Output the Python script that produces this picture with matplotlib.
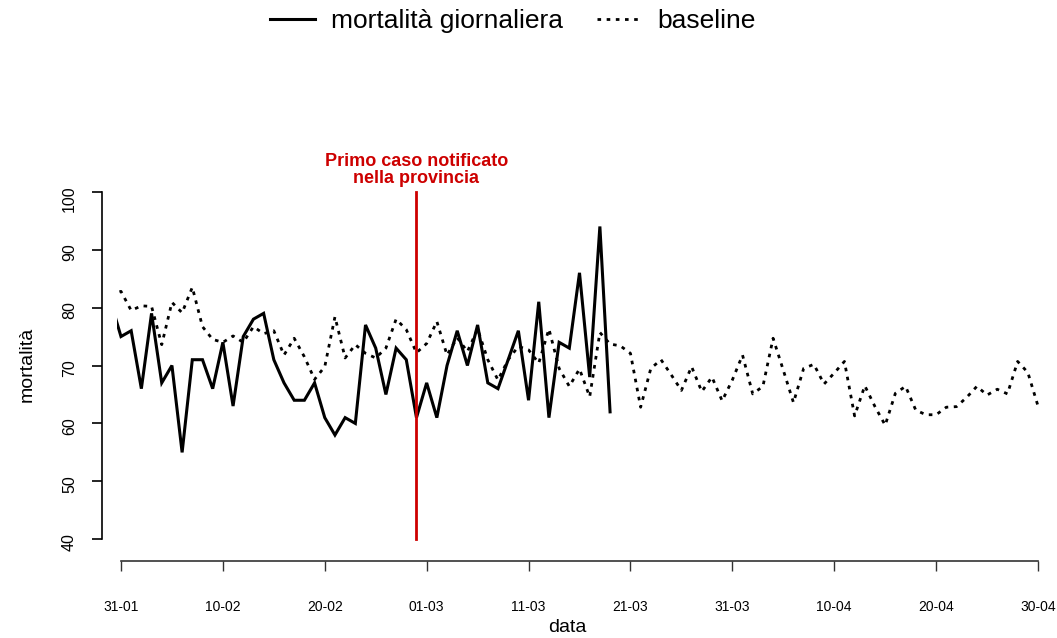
import numpy as np
import matplotlib
matplotlib.use("Agg")
import matplotlib.pyplot as plt
import matplotlib.dates as mdates
from matplotlib.lines import Line2D

plt.rcParams['font.family'] = ['Liberation Sans', 'DejaVu Sans']

# ---- data -------------------------------------------------------------
start_date = np.datetime64('2020-01-30')
mortalita = [81, 75, 76, 66, 79, 67, 70, 55, 71, 71, 66, 74, 63, 75, 78, 79,
             71, 67, 64, 64, 67, 61, 58, 61, 60, 77, 73, 65, 73, 71, 61, 67,
             61, 70, 76, 70, 77, 67, 66, 71, 76, 64, 81, 61, 74, 73, 86, 68,
             94, 62]
baseline = [82.2, 82.8, 79.5, 80.3, 80.2, 73.6, 80.9, 79.1, 83.5, 76.7, 74.5,
            74.0, 75.1, 74.0, 76.7, 75.5, 76.0, 71.8, 74.7, 71.5, 67.6, 69.8,
            78.4, 71.3, 73.6, 72.1, 71.3, 73.0, 78.0, 76.2, 72.2, 73.8, 77.6,
            71.8, 74.8, 72.4, 76.3, 71.0, 67.5, 71.0, 73.3, 72.7, 70.4, 76.3,
            69.5, 66.4, 69.4, 64.6, 75.7, 73.7, 73.4, 72.1, 62.8, 69.5, 71.0,
            68.4, 65.7, 69.8, 65.5, 68.0, 63.9, 67.5, 71.8, 65.1, 66.4, 74.7,
            69.2, 63.6, 69.5, 70.2, 66.8, 68.7, 70.7, 61.3, 66.5, 62.9, 59.7,
            65.2, 66.4, 62.3, 61.5, 61.5, 62.8, 62.9, 64.5, 66.4, 64.9, 65.9,
            65.1, 70.7, 68.8, 63.0]
tick_dates = ['2020-01-31', '2020-02-10', '2020-02-20', '2020-03-01',
              '2020-03-11', '2020-03-21', '2020-03-31', '2020-04-10',
              '2020-04-20', '2020-04-30']
tick_labels = ['31-01', '10-02', '20-02', '01-03', '11-03', '21-03',
               '31-03', '10-04', '20-04', '30-04']
y_ticks = [40, 50, 60, 70, 80, 90, 100]
first_case = '2020-02-29'
annotation = "Primo caso notificato\nnella provincia"
legend_labels = ['mortalità giornaliera', 'baseline']

# ---- figure -----------------------------------------------------------
W, H = 1057, 638
fig = plt.figure(figsize=(W / 100, H / 100), dpi=100)
ax = fig.add_axes([116.7 / W, 1 - 553.2 / H, 925.6 / W, 375.4 / H])

d_m = mdates.date2num(start_date + np.arange(len(mortalita)))
d_b = mdates.date2num(start_date + np.arange(len(baseline)))
t_num = mdates.date2num(np.array(tick_dates, dtype='datetime64[D]'))
red = '#CD0000'

ax.plot(d_b, baseline, color='black', lw=2.0, linestyle=(0, (1.3, 2.0)),
        dash_capstyle='butt')
ax.plot(d_m, mortalita, color='black', lw=2.2, solid_joinstyle='miter')
fc = mdates.date2num(np.datetime64(first_case))
ax.plot([fc, fc], [y_ticks[0], y_ticks[-1]], color=red, lw=2.0)
ax.text(fc, 103.8, annotation, color=red, fontsize=13, fontweight='bold',
        ha='center', va='center', multialignment='center', clip_on=False,
        linespacing=0.98)

ax.set_xlim(t_num[0] - 0.42, t_num[-1] + 0.42)
ax.set_ylim(37.6, 102.4)
ax.set_xticks(t_num)
ax.set_xticklabels(tick_labels)
ax.set_yticks(y_ticks)
ax.set_yticklabels([str(v) for v in y_ticks], va='center')

for s in ['top', 'right']:
    ax.spines[s].set_visible(False)
ax.spines['left'].set_position(('outward', 10.6))
ax.spines['left'].set_bounds(y_ticks[0], y_ticks[-1])
ax.spines['bottom'].set_position(('outward', 5.4))
ax.spines['bottom'].set_bounds(t_num[0], t_num[-1])
for s in ['left', 'bottom']:
    ax.spines[s].set_linewidth(1.2)
ax.tick_params(axis='y', length=7, width=1.2, pad=11, labelrotation=90,
               labelsize=11.5)
ax.tick_params(axis='x', length=7, width=1.0, pad=21, color='#333333',
               labelsize=10)
ax.spines['bottom'].set_color('#333333')

fig.text(567 / W, 1 - 628 / H, 'data', fontsize=14, ha='center', va='center')
fig.text(27 / W, 1 - 364 / H, 'mortalità', fontsize=14, ha='center',
         va='center', rotation=90)

handles = [Line2D([], [], color='black', lw=2.2),
           Line2D([], [], color='black', lw=2.0, linestyle=(0, (1.3, 2.0)))]
fig.legend(handles, legend_labels, loc='center', ncol=2,
           bbox_to_anchor=(513 / W, 1 - 21 / H), frameon=False, fontsize=19,
           handlelength=1.7, columnspacing=1.3, handletextpad=0.6)

fig.savefig('out.png', dpi=100)
